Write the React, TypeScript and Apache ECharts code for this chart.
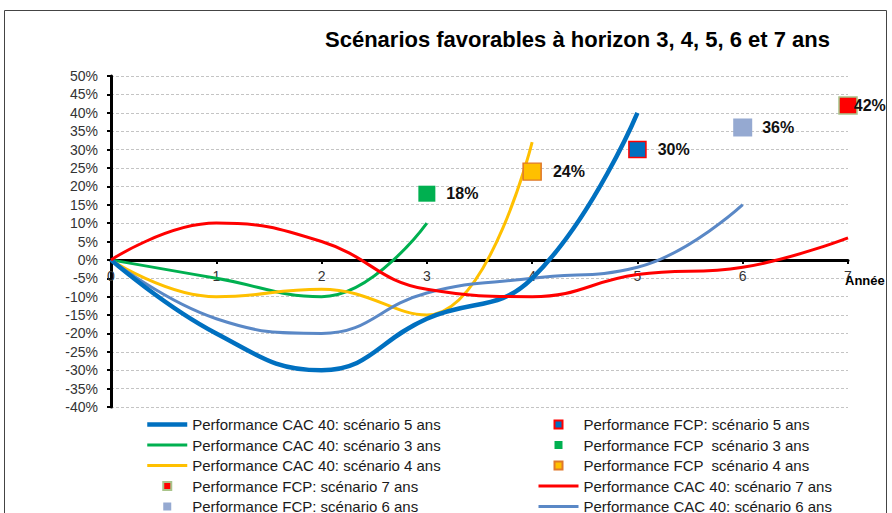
import { useEffect, useRef } from 'react';
import * as echarts from 'echarts';

const years = [0, 1, 2, 3, 4, 5, 6, 7];
const cac5 = [0, -20, -30, -16, -5, 40];
const cac3 = [0, -5, -10, 10];
const cac4 = [0, -10, -8, -15, 32];
const cac6 = [0, -16, -20, -9, -5, -2, 15];
const cac7 = [0, 10, 5, -8, -10, -4, -2, 6];
const fcpYears = [3, 4, 5, 6, 7];
const fcpValues = [18, 24, 30, 36, 42];
const X_AXIS_NAME = 'Année';

const N_CAC5 = 'Performance CAC 40: scénario 5 ans';
const N_CAC3 = 'Performance CAC 40: scénario 3 ans';
const N_CAC4 = 'Performance CAC 40: scénario 4 ans';
const N_CAC7 = 'Performance CAC 40: scénario 7 ans';
const N_CAC6 = 'Performance CAC 40: scénario 6 ans';
const N_FCP5 = 'Performance FCP: scénario 5 ans';
const N_FCP3 = 'Performance FCP  scénario 3 ans';
const N_FCP4 = 'Performance FCP  scénario 4 ans';
const N_FCP7 = 'Performance FCP: scénario 7 ans';
const N_FCP6 = 'Performance FCP: scénario 6 ans';

const FONT = '"Liberation Sans", Arial, sans-serif';
const SQ = 'path://M0,0h10v10h-10z';

const Y_MIN = -40;
const Y_MAX = 50;
const GRID_TOP = 76;
const GRID_BOTTOM = 106;
const CHART_H = 513;

const toXY = (vals: number[]) => vals.map((v, i) => [years[i], v]);

export default function App() {
  const ref = useRef<HTMLDivElement>(null);
  useEffect(() => {
    document.body.style.margin = '0';
    if (!ref.current) return;
    const chart = echarts.init(ref.current, undefined, { renderer: 'svg' });

    // distance from the grid's bottom edge up to the 0% line
    const plotH = CHART_H - GRID_TOP - GRID_BOTTOM;
    const zeroOffset = (plotH * (0 - Y_MIN)) / (Y_MAX - Y_MIN);

    const lineSeries = (name: string, vals: number[], color: string, width: number) => ({
      type: 'line',
      name,
      data: toXY(vals),
      smooth: 0.45,
      showSymbol: false,
      symbol: 'none',
      lineStyle: { color, width },
      itemStyle: { color },
      z: 3,
    });

    const fcpSeries = (name: string, idx: number, color: string, border: string, size: number, dist: number) => ({
      type: 'scatter',
      name,
      data: [[fcpYears[idx], fcpValues[idx]]],
      symbol: 'rect',
      symbolSize: [size, size - 1],
      itemStyle: { color, borderColor: border, borderWidth: border === color ? 0 : 1.5, opacity: 1 },
      label: {
        show: true,
        position: 'right',
        distance: dist,
        formatter: (p: any) => p.value[1] + '%',
        fontFamily: FONT,
        fontWeight: 'bold',
        fontSize: 16,
        color: '#111',
      },
      z: 5,
    });

    const lineItem = (name: string, w: number) => ({ name, itemStyle: { opacity: 0 }, lineStyle: { width: w } });

    const legendCommon = {
      orient: 'vertical',
      itemWidth: 40,
      itemHeight: 8,
      itemGap: 5.5,
      padding: 0,
      height: 120,
      symbolKeepAspect: true,
      textStyle: { fontFamily: FONT, fontSize: 15, color: '#1a1a1a', lineHeight: 15 },
      selectedMode: false,
    };

    chart.setOption({
      animation: false,
      backgroundColor: '#fff',
      title: {
        text: 'Scénarios favorables à horizon 3, 4, 5, 6 et 7 ans',
        left: 325,
        top: 28,
        padding: 0,
        textStyle: { fontFamily: FONT, fontWeight: 'bold', fontSize: 22, color: '#000' },
      },
      graphic: [
        {
          type: 'rect',
          shape: { x: 4.5, y: 10.5, width: 882, height: 520 },
          style: { fill: 'none', stroke: '#444', lineWidth: 1 },
          silent: true,
        },
        {
          type: 'text',
          left: 845,
          top: 274,
          style: {
            text: X_AXIS_NAME,
            fontFamily: FONT,
            fontWeight: 'bold',
            fontSize: 13,
            fill: '#000',
          },
          silent: true,
          z: 10,
        },
      ],
      legend: [
        {
          ...legendCommon,
          left: 145,
          top: 417,
          data: [
            lineItem(N_CAC5, 4.5),
            lineItem(N_CAC3, 3),
            lineItem(N_CAC4, 3),
            { name: N_FCP7, icon: SQ },
            { name: N_FCP6, icon: SQ },
          ],
        },
        {
          ...legendCommon,
          left: 537,
          top: 417,
          data: [
            { name: N_FCP5, icon: SQ },
            { name: N_FCP3, icon: SQ },
            { name: N_FCP4, icon: SQ },
            lineItem(N_CAC7, 3),
            lineItem(N_CAC6, 3),
          ],
        },
      ],
      grid: {
        left: 111,
        right: 44,
        top: GRID_TOP,
        bottom: GRID_BOTTOM,
        containLabel: false,
        outerBoundsMode: 'none',
      },
      xAxis: {
        type: 'value',
        min: 0,
        max: 7,
        interval: 1,
        position: 'bottom',
        offset: -zeroOffset,
        axisLine: { onZero: false, lineStyle: { color: '#000', width: 3 } },
        axisTick: { show: true, length: 4, lineStyle: { color: '#000', width: 2 } },
        axisLabel: { fontFamily: FONT, fontSize: 14, color: '#333', margin: 9 },
        splitLine: { show: false },
      },
      yAxis: {
        type: 'value',
        min: Y_MIN,
        max: Y_MAX,
        interval: 5,
        axisLine: { show: true, onZero: false, lineStyle: { color: '#000', width: 3 } },
        axisTick: { show: true, length: 4, lineStyle: { color: '#000', width: 2 } },
        axisLabel: { fontFamily: FONT, fontSize: 14, color: '#333', margin: 13, formatter: '{value}%' },
        splitLine: { show: true, lineStyle: { color: '#c4c4c4', width: 1, type: [3, 2] } },
      },
      series: [
        lineSeries(N_CAC3, cac3, '#00B050', 3),
        lineSeries(N_CAC4, cac4, '#FFC000', 3),
        lineSeries(N_CAC6, cac6, '#5A88C6', 3),
        lineSeries(N_CAC5, cac5, '#0070C0', 4.5),
        lineSeries(N_CAC7, cac7, '#FF0000', 3),
        fcpSeries(N_FCP3, 0, '#00B050', '#00B050', 17, 11),
        fcpSeries(N_FCP4, 1, '#FFC000', '#E0782A', 18, 11),
        fcpSeries(N_FCP5, 2, '#0070C0', '#FF0000', 17, 11),
        fcpSeries(N_FCP6, 3, '#95A9D1', '#95A9D1', 19, 10),
        fcpSeries(N_FCP7, 4, '#FF0000', '#A9C48A', 18, -4),
      ],
    });
    return () => chart.dispose();
  }, []);
  return <div ref={ref} style={{ width: 892, height: 513 }} />;
}
